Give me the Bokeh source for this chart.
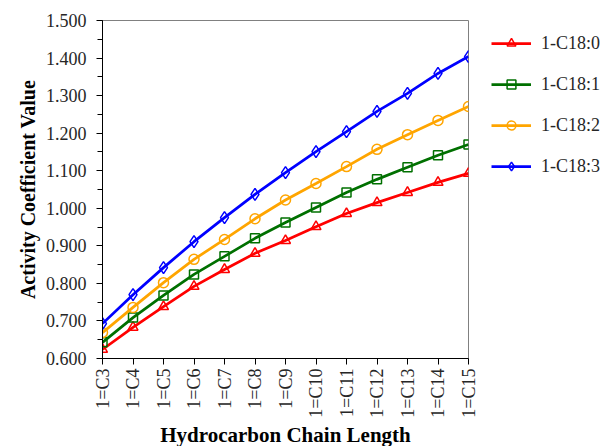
import math
from bokeh.plotting import figure
from bokeh.models import Range1d, FixedTicker, SingleIntervalTicker, PrintfTickFormatter, Legend, LegendItem
from bokeh.embed import file_html
from bokeh.resources import INLINE

categories = ["1=C3", "1=C4", "1=C5", "1=C6", "1=C7", "1=C8", "1=C9", "1=C10",
              "1=C11", "1=C12", "1=C13", "1=C14", "1=C15"]
c180 = [0.624, 0.683, 0.738, 0.792, 0.837, 0.880, 0.914, 0.951, 0.986, 1.015, 1.042, 1.069, 1.093]
c181 = [0.643, 0.709, 0.768, 0.824, 0.872, 0.920, 0.962, 1.002, 1.042, 1.077, 1.109, 1.141, 1.170]
c182 = [0.669, 0.736, 0.802, 0.864, 0.917, 0.972, 1.022, 1.066, 1.111, 1.157, 1.196, 1.234, 1.271]
c183 = [0.693, 0.770, 0.842, 0.911, 0.975, 1.037, 1.095, 1.151, 1.204, 1.258, 1.306, 1.359, 1.404]
series_names = ["1-C18:0", "1-C18:1", "1-C18:2", "1-C18:3"]

FONT = "Liberation Serif"
x = list(range(len(categories)))

p = figure(frame_width=366, frame_height=338, output_backend="svg", toolbar_location=None,
           x_range=Range1d(0, len(categories) - 1), y_range=Range1d(0.6, 1.5),
           min_border_left=102, min_border_top=20, min_border_right=137, min_border_bottom=0)
p.grid.visible = False
p.outline_line_color = "#808080"
p.outline_line_width = 1

p.xaxis.ticker = FixedTicker(ticks=x)
p.xaxis.major_label_overrides = {i: c for i, c in enumerate(categories)}
p.xaxis.major_label_orientation = math.pi / 2
p.yaxis.ticker = SingleIntervalTicker(interval=0.1, num_minor_ticks=2)
p.yaxis.formatter = PrintfTickFormatter(format="%.3f")

for ax in (p.xaxis, p.yaxis):
    ax.axis_line_color = "black"
    ax.axis_line_width = 1
    ax.major_tick_line_color = "black"
    ax.minor_tick_line_color = "black"
    ax.major_tick_out = 6
    ax.major_tick_in = 0
    ax.minor_tick_out = 5
    ax.minor_tick_in = 0
    ax.major_label_text_font = FONT
    ax.major_label_text_font_size = "18px"
    ax.major_label_text_color = "#262626"
    ax.axis_label_text_font = FONT
    ax.axis_label_text_font_style = "bold"
    ax.axis_label_text_color = "black"
p.xaxis.minor_tick_line_color = None
p.xaxis.major_label_standoff = 4
p.yaxis.major_label_standoff = 10
p.xaxis.axis_label = "Hydrocarbon Chain Length"
p.yaxis.axis_label = "Activity Coefficient Value"
p.xaxis.axis_label_text_font_size = "21px"
p.yaxis.axis_label_text_font_size = "20px"
p.xaxis.axis_label_standoff = 2
p.yaxis.axis_label_standoff = 4

styles = [
    (c180, "#FF0000", "triangle", 10),
    (c181, "#007000", "square", 9),
    (c182, "#FFA500", "circle", 10),
    (c183, "#0000FF", "diamond", 12),
]
items = []
for (vals, col, mk, sz), name in zip(styles, series_names):
    r1 = p.line(x, vals, line_color=col, line_width=2.75)
    r2 = p.scatter(x, vals, marker=mk, size=sz, line_color=col, line_width=1.5,
                   fill_color="white", fill_alpha=0.0)
    items.append(LegendItem(label=name, renderers=[r1, r2]))

legend = Legend(items=items, location=(23, 181), orientation="vertical",
                border_line_alpha=0, background_fill_alpha=0,
                margin=0, padding=0, glyph_width=40, glyph_height=22,
                label_height=22, spacing=19, label_standoff=10,
                label_text_font=FONT, label_text_font_size="18px",
                label_text_color="#262626")
p.add_layout(legend, "right")

open("out.html", "w").write(file_html(p, INLINE))
